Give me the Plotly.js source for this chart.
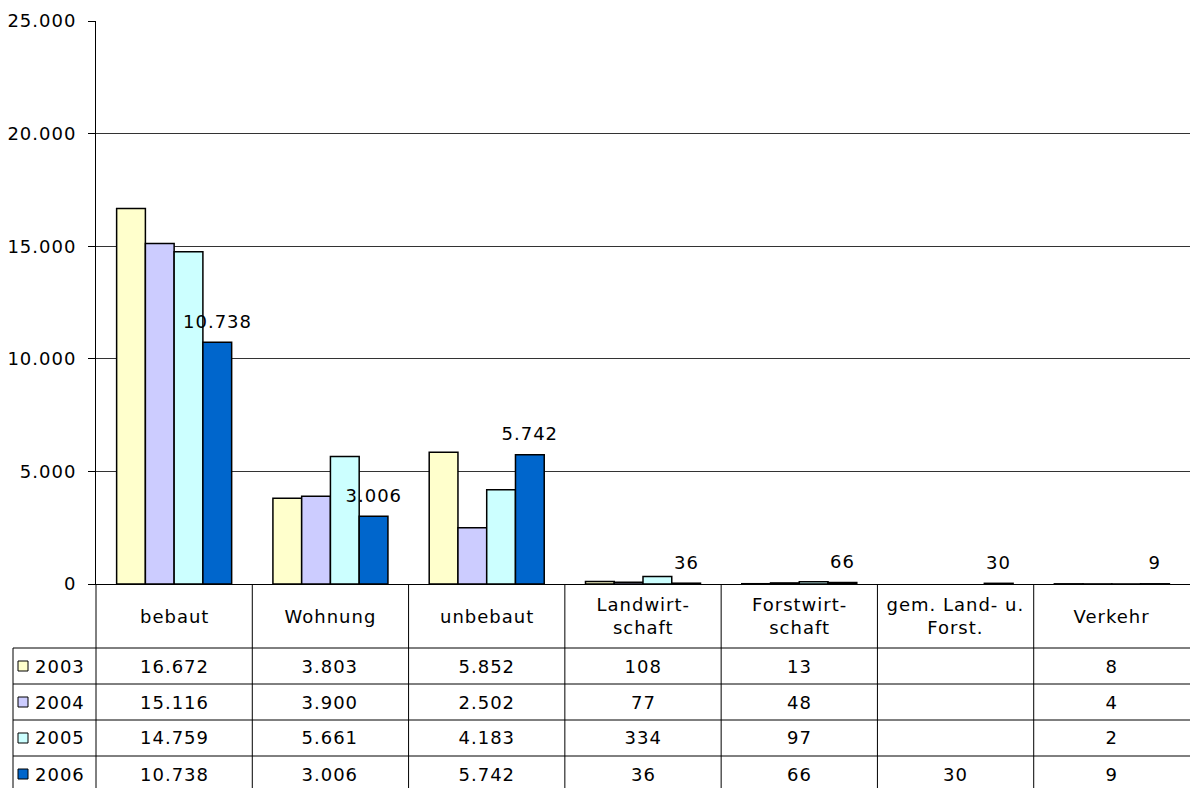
<!DOCTYPE html>
<html><head><meta charset="utf-8">
<script src="https://cdn.plot.ly/plotly-3.0.1.min.js"></script>
<style>html,body{margin:0;padding:0;background:#fff;} #chart{width:1190px;height:788px;}
#chart svg text{letter-spacing:1px;}</style>
</head><body><div id="chart"></div>
<script>
const categories = ['bebaut','Wohnung','unbebaut','Landwirtschaft','Forstwirtschaft','gem. Land- u. Forst.','Verkehr'];
const categoryLabels = ['bebaut','Wohnung','unbebaut','Landwirt-<br>schaft','Forstwirt-<br>schaft','gem. Land- u.<br>Forst.','Verkehr'];
const years = ['2003','2004','2005','2006'];
const v2003 = [16672,3803,5852,108,13,null,8];
const v2004 = [15116,3900,2502,77,48,null,4];
const v2005 = [14759,5661,4183,334,97,null,2];
const v2006 = [10738,3006,5742,36,66,30,9];
const yTicks = [0,5000,10000,15000,20000,25000];
const colors = ['#FFFFCC','#CCCCFF','#CCFFFF','#0066CC'];
const series = [v2003, v2004, v2005, v2006];

function fmt(v){
  if (v === null || v === undefined) return '';
  return String(Math.round(v)).replace(/\B(?=(\d{3})+(?!\d))/g, '.');
}

// layout geometry (pixels)
const W = 1190, H = 788;
const L = 96, R = 0, T = 21, B = 204;
const plotW = W - L - R, plotH = H - T - B;
const bottomPx = H - B; // y pixel of zero line
const bargap = 0.264;
const catW = plotW / categories.length;
const barW = catW * (1 - bargap) / years.length;
const FONT = 'DejaVu Sans, Verdana, sans-serif';
const FS = 18;

const px2x = x => (x - L) / plotW;
const px2y = y => (bottomPx - y) / plotH;

// table rows (pixel y)
const headerBottom = 648;
const rowH = 36;
const rowTops = years.map((_, i) => headerBottom + i * rowH);

const traces = years.map((yr, i) => ({
  type: 'bar',
  name: yr,
  x: categories,
  y: series[i],
  marker: {color: colors[i], line: {color: '#000', width: 1.5}},
  hoverinfo: 'x+y+name'
}));

const shapes = [];
const annotations = [];
const lineStyle = {color: '#000', width: 1};

// y axis extension down through table
shapes.push({type:'line', xref:'paper', yref:'paper', x0:0, x1:0, y0:0, y1:px2y(H+5), line:lineStyle});
// category boundary verticals through table
for (let i = 1; i < categories.length; i++) {
  const xp = i / categories.length;
  shapes.push({type:'line', xref:'paper', yref:'paper', x0:xp, x1:xp, y0:0, y1:px2y(H+5), line:lineStyle});
}
// left border of key column
shapes.push({type:'line', xref:'paper', yref:'paper', x0:px2x(13), x1:px2x(13), y0:px2y(headerBottom), y1:px2y(H+5), line:lineStyle});
// horizontal row lines
rowTops.forEach(t => {
  shapes.push({type:'line', xref:'paper', yref:'paper', x0:px2x(13), x1:1, y0:px2y(t), y1:px2y(t), line:lineStyle});
});

// header labels
categories.forEach((c, j) => {
  annotations.push({xref:'x', yref:'paper', x:c, y:px2y((bottomPx + headerBottom)/2),
    text: categoryLabels[j], showarrow:false, xanchor:'center', yanchor:'middle',
    font:{family:FONT, size:FS, color:'#000'}});
});

// rows: key + values
years.forEach((yr, i) => {
  const cy = rowTops[i] + rowH/2;
  shapes.push({type:'rect', xref:'paper', yref:'paper', x0:px2x(18), x1:px2x(28), y0:px2y(cy-5), y1:px2y(cy+5),
    fillcolor: colors[i], line:{color:'#000', width:1}});
  annotations.push({xref:'paper', yref:'paper', x:px2x(35), y:px2y(cy), text: yr, showarrow:false,
    xanchor:'left', yanchor:'middle', font:{family:FONT, size:FS, color:'#000'}});
  categories.forEach((c, j) => {
    const v = series[i][j];
    if (v === null) return;
    annotations.push({xref:'x', yref:'paper', x:c, y:px2y(cy), text: fmt(v), showarrow:false,
      xanchor:'center', yanchor:'middle', font:{family:FONT, size:FS, color:'#000'}});
  });
});

// data labels for 2006
categories.forEach((c, j) => {
  const v = v2006[j];
  if (v === null) return;
  annotations.push({xref:'x', yref:'y', x:c, y:v, text: fmt(v), showarrow:false,
    xanchor:'center', yanchor:'middle', xshift: 1.5*barW, yshift: 21,
    font:{family:FONT, size:FS, color:'#000'}});
});

const layout = {
  width: W, height: H,
  margin: {l:L, r:R, t:T, b:B, pad:0},
  paper_bgcolor:'#fff', plot_bgcolor:'#fff',
  barmode:'group', bargap: bargap, bargroupgap: 0,
  showlegend:false,
  font:{family:FONT, size:FS, color:'#000'},
  xaxis:{type:'category', showticklabels:false, ticks:'', showline:true, linecolor:'#000', linewidth:1,
    showgrid:false, zeroline:false, fixedrange:true},
  yaxis:{range:[0,25000], tickvals:yTicks, ticktext:yTicks.map(fmt), ticks:'outside', ticklen:7,
    tickcolor:'#000', showline:true, linecolor:'#000', linewidth:1, showgrid:true, gridcolor:'#333', gridwidth:1,
    zeroline:false, ticklabelstandoff:8, tickfont:{family:FONT, size:FS, color:'#000'}, fixedrange:true},
  shapes: shapes,
  annotations: annotations
};

Plotly.newPlot('chart', traces, layout, {displayModeBar:false, staticPlot:true});
</script>
</body></html>
